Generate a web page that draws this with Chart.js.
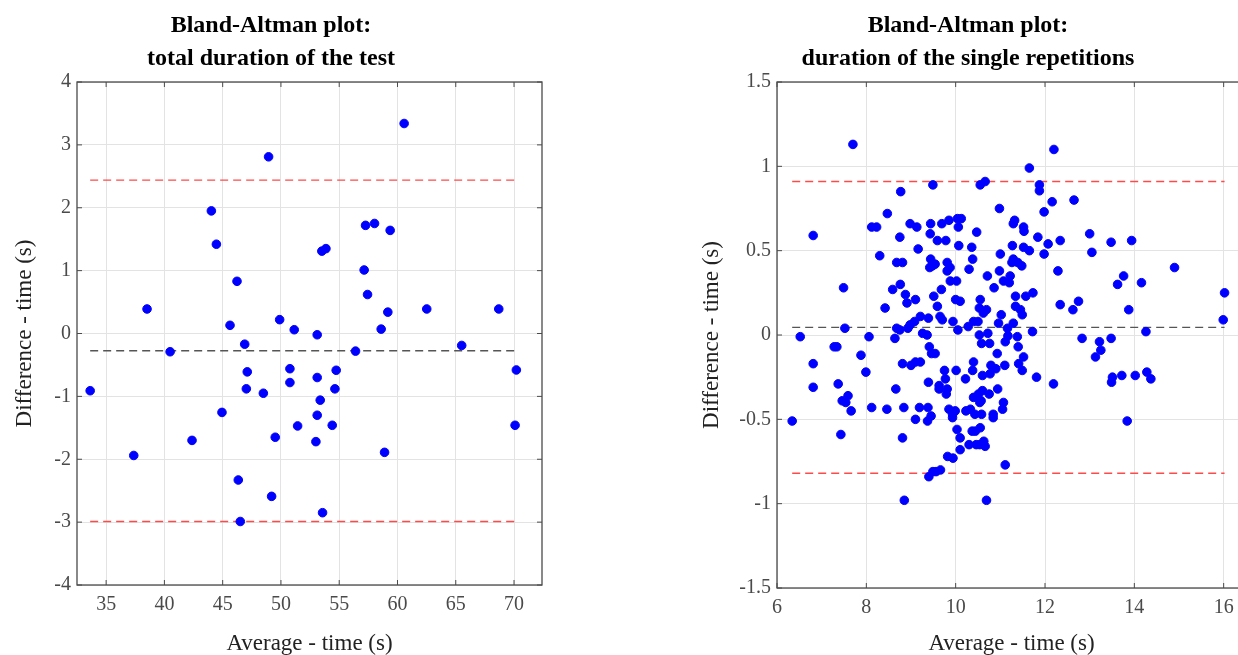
<!DOCTYPE html>
<html>
<head>
<meta charset="utf-8">
<script src="https://cdn.jsdelivr.net/npm/chart.js@4.4.1/dist/chart.umd.min.js"></script>
<style>
  html, body { margin: 0; padding: 0; background: #fff; overflow: hidden; width: 1238px; height: 655px; }
  .wrap { position: absolute; top: 0; height: 655px; }
  #leftBox { left: 0; width: 619px; }
  #rightBox { left: 690px; width: 642px; }
</style>
</head>
<body>
<div class="wrap" id="leftBox"><canvas id="totalChart" width="619" height="655"></canvas></div>
<div class="wrap" id="rightBox"><canvas id="repsChart" width="642" height="655"></canvas></div>
<script>
// total duration of the test
let totalAvg = [60.57, 48.94, 44.03, 44.46, 57.26, 58.03, 59.37, 53.51, 53.86, 57.14,
  46.23, 57.43, 38.51, 62.51, 68.69, 59.17, 45.63, 49.89, 51.14, 58.6,
  53.11, 40.49, 56.4, 65.51, 46.89, 33.63, 47.11, 50.77, 54.74, 70.2,
  47.03, 48.49, 50.77, 53.11, 54.63, 53.37, 44.94, 53.11, 51.43, 54.4,
  70.09, 42.37, 49.51, 53.0, 37.37, 58.89, 46.34, 49.2, 53.57, 46.51];
let totalDiff = [3.34, 2.81, 1.95, 1.42, 1.72, 1.75, 1.64, 1.31, 1.35, 1.01,
  0.83, 0.62, 0.39, 0.39, 0.39, 0.34, 0.13, 0.22, 0.06, 0.07,
  -0.02, -0.29, -0.28, -0.19, -0.17, -0.91, -0.61, -0.56, -0.585, -0.58,
  -0.88, -0.95, -0.78, -0.70, -0.88, -1.06, -1.255, -1.30, -1.47, -1.46,
  -1.46, -1.70, -1.65, -1.72, -1.94, -1.89, -2.33, -2.59, -2.85, -2.99];
let totalLimits = [-2.99, -0.275, 2.44]; // lower LoA, mean, upper LoA
let totalXTicks = [35, 40, 45, 50, 55, 60, 65, 70];
let totalYTicks = [-4, -3, -2, -1, 0, 1, 2, 3, 4];

// duration of the single repetitions
let repsAvg = [7.70, 12.20, 11.65, 10.66, 10.55, 9.49, 11.875, 11.875, 8.77, 12.16,
  12.65, 10.98, 8.47, 11.98, 6.81, 8.12, 8.23, 8.98, 9.13, 9.44,
  9.69, 9.85, 10.04, 10.125, 10.06, 11.32, 11.29, 11.52, 11.53, 10.47,
  9.43, 8.75, 11.84, 13.0, 9.59, 9.78, 12.34, 13.48, 13.94, 12.07,
  10.07, 10.36, 11.27, 11.52, 9.16, 11.65, 13.05, 8.30, 11.0, 11.98,
  10.38, 9.44, 8.68, 8.81, 9.81, 11.29, 11.26, 11.39, 11.48, 9.48,
  9.54, 9.42, 9.875, 9.81, 10.30, 10.98, 12.29, 14.90, 10.71, 11.22,
  13.76, 9.88, 10.02, 11.07, 11.20, 13.625, 14.16, 8.76, 7.49, 8.59,
  9.68, 10.86, 11.73, 11.57, 8.875, 9.51, 11.34, 16.02, 9.10, 8.91,
  10.0, 10.10, 10.55, 12.75, 8.42, 9.59, 10.53, 10.69, 11.34, 11.45,
  12.34, 12.625, 13.875, 10.62, 11.49, 11.02, 9.21, 9.65, 9.39, 9.70,
  15.99, 9.08, 9.94, 10.40, 10.50, 10.96, 11.29, 8.98, 10.28, 7.52,
  8.68, 8.93, 11.16, 8.75, 10.05, 11.72, 14.26, 9.26, 10.72,
  6.52, 8.06, 8.64, 9.36, 10.53, 11.38, 11.17, 12.83, 13.48, 7.34,
  7.28, 13.22, 13.25, 13.13, 9.41, 10.58, 10.76, 11.11, 11.40, 9.46,
  9.54, 10.93, 7.88, 11.52, 6.81, 8.81, 9.0, 9.10, 9.21, 10.40,
  10.79, 11.10, 11.41, 10.90, 10.77, 10.38, 9.75, 10.01, 11.49, 7.99,
  9.77, 10.22, 10.60, 11.81, 12.19, 13.51, 13.49, 13.72, 14.02, 14.28,
  14.37, 7.37, 6.81, 9.39, 9.63, 9.63, 9.81, 9.79, 8.66, 10.94,
  10.60, 10.51, 10.75, 10.40, 10.57, 10.54, 11.07, 7.59, 7.46, 7.54,
  7.66, 8.12, 8.46, 8.84, 9.19, 9.38, 9.45, 9.37, 9.10, 9.85,
  9.99, 9.93, 9.93, 10.23, 10.33, 10.43, 10.58, 10.84, 10.84, 11.05,
  6.34, 13.84, 7.43, 10.03, 10.10, 10.37, 10.44, 10.55, 8.81, 10.30,
  10.46, 10.54, 10.63, 10.66, 10.10, 9.82, 9.94, 11.11, 9.49, 9.56,
  9.66, 9.40, 8.85, 10.69];
let repsDiff = [1.13, 1.10, 0.99, 0.91, 0.89, 0.89, 0.89, 0.855, 0.85, 0.79,
  0.80, 0.75, 0.72, 0.73, 0.59, 0.64, 0.64, 0.66, 0.64, 0.66,
  0.66, 0.68, 0.69, 0.69, 0.64, 0.68, 0.66, 0.64, 0.615, 0.61,
  0.60, 0.58, 0.58, 0.60, 0.56, 0.56, 0.56, 0.55, 0.56, 0.54,
  0.53, 0.52, 0.53, 0.52, 0.51, 0.50, 0.49, 0.47, 0.48, 0.48,
  0.45, 0.45, 0.43, 0.43, 0.43, 0.45, 0.43, 0.43, 0.41, 0.41,
  0.42, 0.40, 0.40, 0.38, 0.39, 0.38, 0.38, 0.40, 0.35, 0.35,
  0.35, 0.32, 0.32, 0.32, 0.31, 0.30, 0.31, 0.30, 0.28, 0.27,
  0.27, 0.28, 0.25, 0.23, 0.24, 0.23, 0.23, 0.25, 0.21, 0.19,
  0.21, 0.20, 0.21, 0.20, 0.16, 0.17, 0.16, 0.15, 0.17, 0.15,
  0.18, 0.15, 0.15, 0.13, 0.12, 0.12, 0.11, 0.11, 0.10, 0.09,
  0.09, 0.08, 0.08, 0.08, 0.08, 0.07, 0.07, 0.06, 0.05, 0.04,
  0.04, 0.04, 0.04, 0.03, 0.03, 0.02, 0.02, 0.01, 0.01,
  -0.01, -0.01, -0.02, 0.0, 0.0, -0.01, -0.005, -0.02, -0.02, -0.07,
  -0.07, -0.04, -0.09, -0.13, -0.07, -0.05, -0.05, -0.04, -0.07, -0.11,
  -0.11, -0.11, -0.12, -0.13, -0.17, -0.17, -0.18, -0.16, -0.16, -0.16,
  -0.18, -0.18, -0.17, -0.20, -0.23, -0.21, -0.21, -0.21, -0.21, -0.22,
  -0.26, -0.26, -0.24, -0.25, -0.29, -0.25, -0.28, -0.24, -0.24, -0.22,
  -0.26, -0.29, -0.31, -0.28, -0.30, -0.32, -0.32, -0.35, -0.32, -0.32,
  -0.33, -0.35, -0.35, -0.37, -0.39, -0.40, -0.40, -0.36, -0.39, -0.40,
  -0.45, -0.43, -0.44, -0.43, -0.43, -0.43, -0.48, -0.51, -0.50, -0.44,
  -0.45, -0.49, -0.47, -0.45, -0.44, -0.47, -0.47, -0.47, -0.49, -0.44,
  -0.51, -0.51, -0.59, -0.56, -0.61, -0.57, -0.57, -0.55, -0.61, -0.65,
  -0.65, -0.65, -0.63, -0.66, -0.68, -0.72, -0.73, -0.77, -0.81, -0.81,
  -0.80, -0.84, -0.98, -0.98];
let repsLimits = [-0.82, 0.045, 0.91];
let repsXTicks = [6, 8, 10, 12, 14, 16];
let repsYTicks = [-1.5, -1, -0.5, 0, 0.5, 1, 1.5];

const serif = "'Liberation Serif', 'Times New Roman', serif";
const axisColor = "#4a4a4a";

// MATLAB style box with inward tick marks
const boxPlugin = {
  id: "box",
  afterDatasetsDraw(chart) {
    const { ctx, chartArea: a, scales } = chart;
    ctx.save();
    ctx.strokeStyle = axisColor;
    ctx.lineWidth = 1.3;
    ctx.strokeRect(a.left, a.top, a.right - a.left, a.bottom - a.top);
    ctx.lineWidth = 1;
    ctx.beginPath();
    scales.x.ticks.forEach((t) => {
      const px = scales.x.getPixelForValue(t.value);
      ctx.moveTo(px, a.bottom); ctx.lineTo(px, a.bottom - 5);
      ctx.moveTo(px, a.top); ctx.lineTo(px, a.top + 5);
    });
    scales.y.ticks.forEach((t) => {
      const py = scales.y.getPixelForValue(t.value);
      ctx.moveTo(a.left, py); ctx.lineTo(a.left + 5, py);
      ctx.moveTo(a.right, py); ctx.lineTo(a.right - 5, py);
    });
    ctx.stroke();
    ctx.restore();
  },
};

function limitLine(avg, value, color) {
  return {
    type: "line",
    data: [
      { x: Math.min(...avg), y: value },
      { x: Math.max(...avg), y: value },
    ],
    borderColor: color,
    borderWidth: 1.4,
    borderDash: [8, 5],
    pointRadius: 0,
    fill: false,
  };
}

function makeChart(id, cfg) {
  let points = cfg.avg.map((x, i) => ({ x: x, y: cfg.diff[i] }));
  return new Chart(document.getElementById(id), {
    type: "scatter",
    data: {
      datasets: [
        {
          data: points,
          backgroundColor: "#0000ff",
          borderColor: "#0000ff",
          pointRadius: 4.3,
          pointHoverRadius: 4.3,
        },
        limitLine(cfg.avg, cfg.limits[0], "#ff4a4a"),
        limitLine(cfg.avg, cfg.limits[2], "#ff4a4a"),
        limitLine(cfg.avg, cfg.limits[1], "#555555"),
      ],
    },
    options: {
      responsive: false,
      animation: false,
      events: [],
      layout: { padding: { left: 0, right: cfg.padRight, top: 0, bottom: 0 } },
      plugins: {
        legend: { display: false },
        tooltip: { enabled: false },
        title: {
          display: true,
          text: cfg.title,
          color: "#000",
          font: { family: serif, size: 24, weight: "bold", lineHeight: 1.375 },
          padding: { top: 9, bottom: 7 },
        },
      },
      scales: {
        x: {
          type: "linear",
          min: cfg.xMin,
          max: cfg.xMax,
          afterBuildTicks: (s) => { s.ticks = cfg.xTicks.map((v) => ({ value: v })); },
          afterFit: (s) => { s.height = cfg.xHeight; },
          grid: { color: "#e3e3e3", drawTicks: false },
          border: { display: false },
          ticks: { color: axisColor, font: { family: serif, size: 20 }, padding: 8, maxRotation: 0, callback: (v) => String(v) },
          title: {
            display: true,
            text: "Average - time (s)",
            color: "#222",
            font: { family: serif, size: 23, lineHeight: 1.0 },
            padding: { top: 0, bottom: 0 },
          },
        },
        y: {
          type: "linear",
          min: cfg.yMin,
          max: cfg.yMax,
          afterBuildTicks: (s) => { s.ticks = cfg.yTicks.map((v) => ({ value: v })); },
          afterFit: (s) => { s.width = cfg.yWidth; },
          grid: { color: "#e3e3e3", drawTicks: false },
          border: { display: false },
          ticks: { color: axisColor, font: { family: serif, size: 20 }, padding: 6, callback: (v) => String(v) },
          title: {
            display: true,
            text: "Difference - time (s)",
            color: "#222",
            font: { family: serif, size: 23 },
            padding: { top: cfg.yTitlePad, bottom: 0 },
          },
        },
      },
    },
    plugins: [boxPlugin],
  });
}

makeChart("totalChart", {
  avg: totalAvg, diff: totalDiff, limits: totalLimits,
  xTicks: totalXTicks, yTicks: totalYTicks,
  xMin: 32.5, xMax: 72.4, yMin: -4, yMax: 4,
  title: ["Bland-Altman plot:", "total duration of the test"],
  padRight: 77, yWidth: 77, xHeight: 70, yTitlePad: 11,
});

makeChart("repsChart", {
  avg: repsAvg, diff: repsDiff, limits: repsLimits,
  xTicks: repsXTicks, yTicks: repsYTicks,
  xMin: 6, xMax: 16.5, yMin: -1.5, yMax: 1.5,
  title: ["Bland-Altman plot:", "duration of the single repetitions"],
  padRight: 86, yWidth: 87, xHeight: 67, yTitlePad: 8,
});
</script>
</body>
</html>
